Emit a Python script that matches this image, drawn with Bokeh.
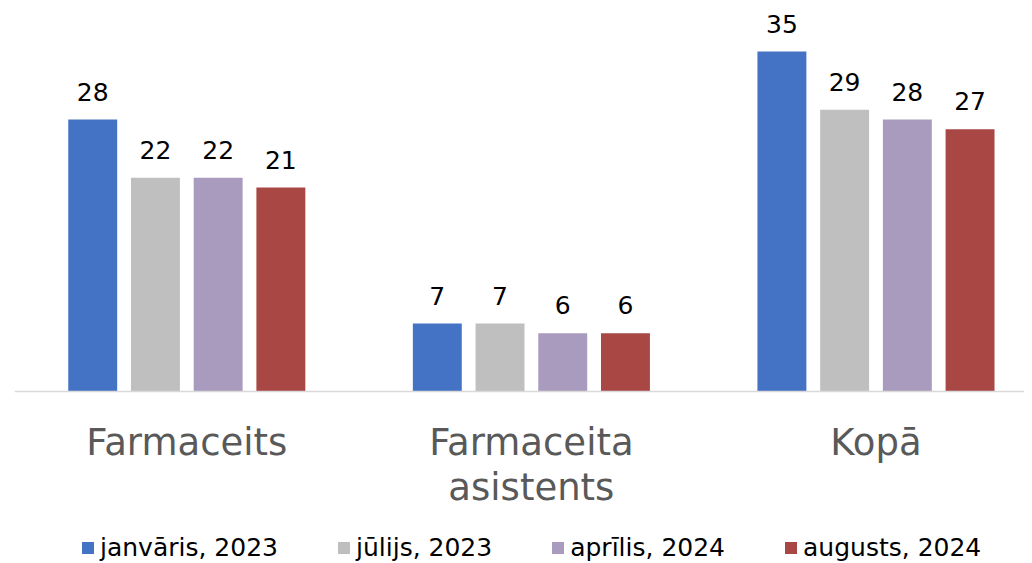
from bokeh.plotting import figure
from bokeh.models import ColumnDataSource, Legend, LegendItem, Range1d, Span
from bokeh.transform import dodge
from bokeh.core.properties import value
from bokeh.embed import file_html
from bokeh.resources import INLINE

categories = ["Farmaceits", "Farmaceita\nasistents", "Kopā"]
series_names = ["janvāris, 2023", "jūlijs, 2023", "aprīlis, 2024", "augusts, 2024"]
janv_2023 = [28, 7, 35]
jul_2023 = [22, 7, 29]
apr_2024 = [22, 6, 28]
aug_2024 = [21, 6, 27]

series_values = [janv_2023, jul_2023, apr_2024, aug_2024]
colors = ["#4472C4", "#BFBFBF", "#A99BBD", "#A84744"]
offsets = [-0.273, -0.091, 0.091, 0.273]
bar_width = 0.142
FONT = "DejaVu Sans"

data = {"x": list(range(len(categories))), "cat": categories, "zero": [0] * len(categories)}
for i, vals in enumerate(series_values):
    data[f"s{i}"] = vals
    data[f"l{i}"] = [str(v) for v in vals]
source = ColumnDataSource(data)

# frame: 1010 x 553 px; value axis 9.714 px per unit, baseline 170 px above frame bottom
p = figure(frame_width=1010, frame_height=553,
           x_range=Range1d(-0.5, 2.431), y_range=Range1d(-17.50, 39.43),
           output_backend="svg", toolbar_location=None,
           min_border_left=14, min_border_right=0, min_border_top=8, min_border_bottom=0)

items = []
for i, name in enumerate(series_names):
    r = p.vbar(x=dodge("x", offsets[i], range=p.x_range), top=f"s{i}", bottom=0, width=bar_width,
               source=source, fill_color=colors[i], line_color=None)
    p.text(x=dodge("x", offsets[i], range=p.x_range), y=f"s{i}", text=f"l{i}", source=source,
           text_align="center", text_baseline="alphabetic", y_offset=-28,
           text_font=value(FONT), text_font_size="25px", text_color="#000000")
    items.append(LegendItem(label=name, renderers=[r]))

# category axis baseline and labels
p.add_layout(Span(location=0, dimension="width", line_color="#D9D9D9", line_width=1.5))
p.text(x="x", y="zero", text="cat", source=source, text_align="center", text_baseline="top",
       y_offset=29, text_font=value(FONT), text_font_size="37px", text_color="#595959",
       text_line_height=1.05)

p.xaxis.visible = False
p.yaxis.visible = False
p.xgrid.grid_line_color = None
p.ygrid.grid_line_color = None
p.outline_line_color = None
p.background_fill_color = "white"
p.border_fill_color = "white"

legend = Legend(items=items, orientation="horizontal", location=(66, -1),
                spacing=58, glyph_width=15, glyph_height=15, label_standoff=5,
                label_text_font=FONT, label_text_font_size="25px", label_text_color="#000000",
                border_line_color=None, background_fill_alpha=0, padding=0, margin=0)
p.add_layout(legend, "center")

open("out.html", "w").write(file_html(p, INLINE))
